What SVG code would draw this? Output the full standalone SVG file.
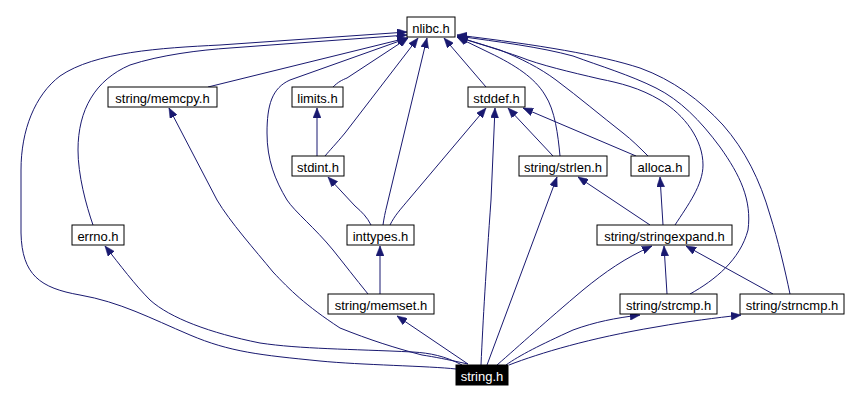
<svg xmlns="http://www.w3.org/2000/svg" width="846" height="401" viewBox="0 0 846 401">
<style>
.n rect{fill:#fff;stroke:#000;stroke-width:1}
.n text{font-family:"Liberation Sans",Arial,sans-serif;font-size:13px;text-anchor:middle;fill:#000}
#string_h rect{fill:#000}
#string_h text{fill:#fff}
.e path{fill:none;stroke:#191970;stroke-width:1;marker-end:url(#ah)}
</style>
<defs>
<marker id="ah" markerUnits="userSpaceOnUse" markerWidth="10" markerHeight="8" refX="10" refY="4" orient="auto" viewBox="0 0 10 8">
<path d="M0,0 L10,4 L0,8 z" fill="#191970" stroke="#191970" stroke-width="0.5"/>
</marker>
</defs>
<rect width="846" height="401" fill="#fff"/>
<g id="edges" class="e">
<path d="M456,369 C430,366 360,365 320,361 C260,355 230,352 190,335 C150,318 120,302 80,295 C40,288 22,275 21,233 L21,170 C21,130 35,95 60,76 C95,52 160,48 220,45 L407,32"/>
<path d="M93,225 C86,205 78,175 78,150 C78,110 95,80 130,65 C160,55 200,50 230,48 L407,35"/>
<path d="M462,365 C445,356 430,353 413,352 C350,349 300,349 260,343 C210,333 170,318 150,300 C135,285 120,265 105,246"/>
<path d="M208,87 L407,38"/>
<path d="M468,364 C445,359 435,357 422,355 C395,348 370,340 340,328 C305,305 290,290 273,272 C255,250 230,222 217,200 L169,108"/>
<path d="M333,87 C338,82 342,80 347,78 L408,38"/>
<path d="M317,156 L317,108"/>
<path d="M325,156 C330,150 335,145 345,133 L418,38"/>
<path d="M371,225 C367,217 362,212 355,206 L328,177"/>
<path d="M383,225 C384,218 385,213 387,205 L427,38"/>
<path d="M390,225 C395,215 400,210 410,198 L486,108"/>
<path d="M380,294 L380,246"/>
<path d="M368,294 C355,278 345,265 333,250 C315,228 295,212 287,200 C275,180 267,160 267,133 C267,105 272,88 290,80 L408,38"/>
<path d="M486,87 L444,38"/>
<path d="M481,365 C483,320 486,270 491,200 L495,108"/>
<path d="M560,156 C558,135 555,110 545,95 C535,78 515,65 490,53 L457,37"/>
<path d="M553,156 L508,108"/>
<path d="M636,156 L523,108"/>
<path d="M648,156 C640,148 632,140 623,133 C600,115 580,98 556,80 C540,68 520,58 500,50 L458,37"/>
<path d="M663,225 L660,177"/>
<path d="M650,225 L578,177"/>
<path d="M675,225 C688,205 703,185 703,165 C703,140 685,115 660,100 C640,88 620,83 600,79 C570,72 540,65 520,57 C500,50 480,44 457,37"/>
<path d="M667,294 L664,246"/>
<path d="M690,294 C715,280 740,260 748,230 C752,200 740,175 720,147 C700,120 680,100 656,88 C630,75 600,66 573,56 C540,47 500,42 457,36"/>
<path d="M773,294 L686,246"/>
<path d="M790,294 C785,270 778,240 770,215 C760,180 745,150 723,125 C700,100 673,80 640,68 C600,55 540,45 457,35"/>
<path d="M487,365 L557,177"/>
<path d="M497,365 C520,345 545,322 583,290 C605,272 625,258 652,246"/>
<path d="M506,365 C520,355 540,345 573,330 C595,322 615,318 640,315"/>
<path d="M509,365 C540,353 590,338 656,327 C690,321 715,318 741,315"/>
<path d="M468,364 L397,316"/>
</g>
<g id="nlibc_h" class="n"><rect x="407" y="17" width="48" height="20"/><text x="431" y="33">nlibc.h</text></g>
<g id="string_memcpy_h" class="n"><rect x="108" y="87" width="109" height="20"/><text x="162.5" y="103">string/memcpy.h</text></g>
<g id="limits_h" class="n"><rect x="292" y="87" width="51" height="20"/><text x="317.5" y="103">limits.h</text></g>
<g id="stddef_h" class="n"><rect x="468" y="87" width="57" height="20"/><text x="496.5" y="103">stddef.h</text></g>
<g id="stdint_h" class="n"><rect x="292" y="156" width="52" height="20"/><text x="318" y="172">stdint.h</text></g>
<g id="string_strlen_h" class="n"><rect x="519" y="156" width="88" height="20"/><text x="563" y="172">string/strlen.h</text></g>
<g id="alloca_h" class="n"><rect x="631" y="156" width="58" height="20"/><text x="660" y="172">alloca.h</text></g>
<g id="errno_h" class="n"><rect x="72" y="225" width="52" height="20"/><text x="98" y="241">errno.h</text></g>
<g id="inttypes_h" class="n"><rect x="347" y="225" width="67" height="20"/><text x="380.5" y="241">inttypes.h</text></g>
<g id="string_stringexpand_h" class="n"><rect x="597" y="225" width="135" height="20"/><text x="664.5" y="241">string/stringexpand.h</text></g>
<g id="string_memset_h" class="n"><rect x="328" y="294" width="106" height="20"/><text x="381" y="310">string/memset.h</text></g>
<g id="string_strcmp_h" class="n"><rect x="620" y="294" width="97" height="20"/><text x="668.5" y="310">string/strcmp.h</text></g>
<g id="string_strncmp_h" class="n"><rect x="740" y="294" width="104" height="20"/><text x="792" y="310">string/strncmp.h</text></g>
<g id="string_h" class="n"><rect x="456" y="365" width="52" height="20"/><text x="482" y="381">string.h</text></g>
</svg>
